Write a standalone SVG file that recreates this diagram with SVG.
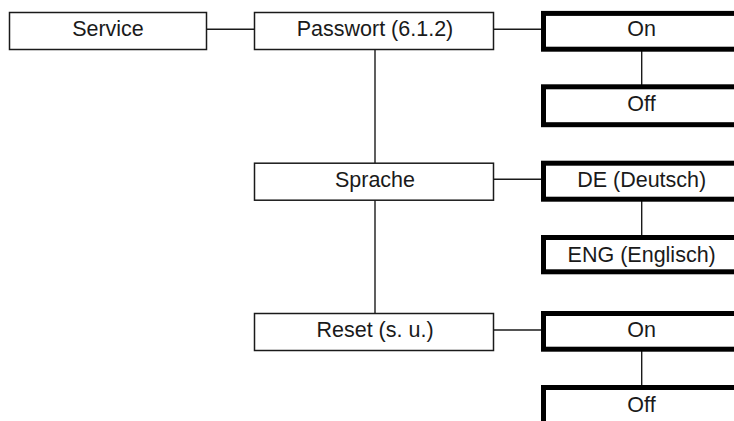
<svg xmlns="http://www.w3.org/2000/svg" width="734" height="421" viewBox="0 0 734 421">
  <style>
    .box { fill: #ffffff; stroke: #1a1a1a; stroke-width: 1.5; }
    .opt { fill: #ffffff; stroke: #000000; stroke-width: 5; }
    .link { fill: none; stroke: #1a1a1a; stroke-width: 1.4; }
    .label { font-family: "Liberation Sans", Arial, sans-serif; font-size: 21.5px; fill: #1a1a1a; text-anchor: middle; }
  </style>
  <rect width="734" height="421" fill="#ffffff"/>

  <!-- connectors -->
  <g id="connectors">
    <line class="link" x1="207" y1="29.3" x2="254" y2="29.3"/>
    <line class="link" x1="494" y1="29.3" x2="541" y2="29.3"/>
    <line class="link" x1="494" y1="179.3" x2="541" y2="179.3"/>
    <line class="link" x1="494" y1="330" x2="541" y2="330"/>
    <line class="link" x1="375" y1="50" x2="375" y2="163"/>
    <line class="link" x1="375" y1="200" x2="375" y2="313"/>
    <line class="link" x1="641.7" y1="51" x2="641.7" y2="85"/>
    <line class="link" x1="641.7" y1="201" x2="641.7" y2="235"/>
    <line class="link" x1="641.7" y1="351" x2="641.7" y2="385"/>
  </g>

  <!-- menu levels -->
  <g id="service">
    <rect class="box" x="9.5" y="12.5" width="197" height="37"/>
    <text class="label" x="108" y="36">Service</text>
  </g>
  <g id="passwort">
    <rect class="box" x="254.5" y="12.5" width="239" height="37"/>
    <text class="label" x="375" y="36">Passwort (6.1.2)</text>
  </g>
  <g id="sprache">
    <rect class="box" x="254.5" y="163.2" width="239" height="37"/>
    <text class="label" x="375" y="186.5">Sprache</text>
  </g>
  <g id="reset">
    <rect class="box" x="254.5" y="313.5" width="239" height="37"/>
    <text class="label" x="375" y="337">Reset (s. u.)</text>
  </g>

  <!-- selectable options -->
  <g id="passwort-on">
    <rect class="opt" x="543.5" y="13.4" width="200" height="35.8"/>
    <text class="label" x="641.5" y="36">On</text>
  </g>
  <g id="passwort-off">
    <rect class="opt" x="543.5" y="86.8" width="200" height="37.9"/>
    <text class="label" x="641.5" y="111">Off</text>
  </g>
  <g id="sprache-de">
    <rect class="opt" x="543.5" y="163.2" width="200" height="36"/>
    <text class="label" x="641.7" y="186.7">DE (Deutsch)</text>
  </g>
  <g id="sprache-eng">
    <rect class="opt" x="543.5" y="237.5" width="200" height="34.3"/>
    <text class="label" x="641.7" y="262">ENG (Englisch)</text>
  </g>
  <g id="reset-on">
    <rect class="opt" x="543.5" y="313.5" width="200" height="35.7"/>
    <text class="label" x="641.5" y="337">On</text>
  </g>
  <g id="reset-off">
    <rect class="opt" x="543.5" y="387.5" width="200" height="50"/>
    <text class="label" x="641.5" y="412">Off</text>
  </g>
</svg>
